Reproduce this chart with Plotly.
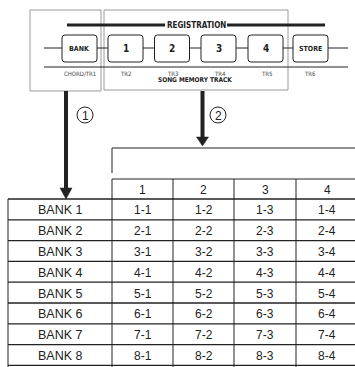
import plotly.graph_objects as go

# ---- data ----
button_labels = ["BANK", "1", "2", "3", "4", "STORE"]
track_labels = ["CHORD/TR1", "TR2", "TR3", "TR4", "TR5", "TR6"]
title_text = "REGISTRATION"
sub_text = "SONG MEMORY TRACK"
col_headers = ["1", "2", "3", "4"]
bank_labels = ["BANK 1", "BANK 2", "BANK 3", "BANK 4", "BANK 5", "BANK 6", "BANK 7", "BANK 8"]
cell_values = [[f"{b}-{c}" for c in col_headers] for b in range(1, 9)]
step_marks = ["1", "2"]

W, H = 355, 367
fig = go.Figure()
shapes = []
ann = []
DARK = "#222222"
GRAY = "#9a9a9a"

def line(x0, y0, x1, y1, w=1, c=DARK):
    shapes.append(dict(type="line", x0=x0, y0=y0, x1=x1, y1=y1, xref="x", yref="y",
                       line=dict(color=c, width=w)))

def text(x, y, s, size=12, family="Liberation Sans", color=DARK, bold=False):
    if bold:
        s = f"<b>{s}</b>"
    ann.append(dict(x=x, y=y, text=s, xref="x", yref="y", showarrow=False,
                    xanchor="center", yanchor="middle",
                    font=dict(size=size, family=family, color=color)))

def rrect(x0, y0, x1, y1, r=3, c=DARK, w=1):
    p = (f"M {x0+r},{y0} L {x1-r},{y0} Q {x1},{y0} {x1},{y0+r} L {x1},{y1-r} "
         f"Q {x1},{y1} {x1-r},{y1} L {x0+r},{y1} Q {x0},{y1} {x0},{y1-r} "
         f"L {x0},{y0+r} Q {x0},{y0} {x0+r},{y0} Z")
    shapes.append(dict(type="path", path=p, xref="x", yref="y",
                       line=dict(color=c, width=w), fillcolor="white"))

# ---- top panel ----
shapes.append(dict(type="rect", x0=30, y0=10, x1=101, y1=91, xref="x", yref="y",
                   line=dict(color=GRAY, width=1)))
shapes.append(dict(type="rect", x0=104, y0=10, x1=288, y1=90, xref="x", yref="y",
                   line=dict(color=GRAY, width=1)))
line(67, 25, 165, 25, w=3)
line(227, 25, 325, 25, w=3)
text(196, 25, title_text, size=8, family="DejaVu Sans Condensed", bold=True)
line(44, 48, 348, 48)
line(44, 67, 348, 67)
bx = [62, 108, 154.5, 201, 248, 293]
for i, lab in enumerate(button_labels):
    rrect(bx[i], 35, bx[i] + 35, 62)
    size = 7 if len(lab) > 1 else 10
    text(bx[i] + 17.5, 48.5, lab, size=size, family="DejaVu Sans Condensed", bold=True)
tx = [80, 125, 172, 220, 266, 310]
for i, lab in enumerate(track_labels):
    text(tx[i], 73, lab, size=6, family="DejaVu Sans Condensed", color="#444444")
text(195, 79.5, sub_text, size=6.5, family="DejaVu Sans Condensed", bold=True)

# ---- arrows ----
line(66, 91, 66, 190, w=4)
shapes.append(dict(type="path", path="M 60,188 L 72,188 L 66,199 Z", xref="x", yref="y",
                   line=dict(color=DARK, width=0.5), fillcolor=DARK))
line(202.5, 91, 202.5, 138, w=4)
shapes.append(dict(type="path", path="M 196.5,137 L 208.5,137 L 202.5,146 Z", xref="x", yref="y",
                   line=dict(color=DARK, width=0.5), fillcolor=DARK))
for (cx, cy), m in zip([(85, 115), (218, 115)], step_marks):
    shapes.append(dict(type="circle", x0=cx - 8, y0=cy - 8, x1=cx + 8, y1=cy + 8,
                       xref="x", yref="y", line=dict(color=DARK, width=1)))
    text(cx, cy + 0.5, m, size=12, family="Liberation Sans")

# ---- table ----
line(112, 148, 358, 148)
line(112, 148, 112, 173)
cols = [112, 173, 234, 296, 358]
head_top, row_top, rh = 179, 199, 20.8
row_y = [row_top + i * rh for i in range(len(bank_labels) + 1)]
line(112, head_top, 358, head_top)
for j, h in enumerate(col_headers):
    text((cols[j] + cols[j + 1]) / 2, (head_top + row_top) / 2 + 1, h, size=12)
for y in row_y:
    line(8, y, 358, y, w=1.3)
line(8, row_top, 8, 370)
for x in cols[:-1]:
    line(x, head_top, x, 370)
for i, b in enumerate(bank_labels):
    yc = row_y[i] + rh / 2 + 1
    text(60, yc, b, size=12.5)
    for j in range(4):
        text((cols[j] + cols[j + 1]) / 2, yc, cell_values[i][j], size=12)

fig.update_layout(width=W, height=H, margin=dict(l=0, r=0, t=0, b=0),
                  paper_bgcolor="white", plot_bgcolor="white",
                  xaxis=dict(range=[0, W], visible=False, fixedrange=True),
                  yaxis=dict(range=[H, 0], visible=False, fixedrange=True),
                  shapes=shapes, annotations=ann, showlegend=False)
fig.write_html("out.html", config={"displayModeBar": False},
               post_script="document.body.style.margin='0';document.body.style.overflow='hidden';")
